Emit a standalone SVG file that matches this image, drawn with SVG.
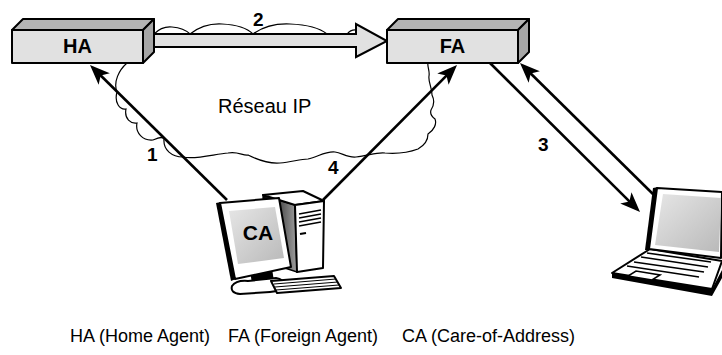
<svg xmlns="http://www.w3.org/2000/svg" width="722" height="355" viewBox="0 0 722 355">
  <defs>
    <style>
      .front { fill: #e1e1e1; stroke: #000; stroke-width: 2; stroke-linejoin: round; }
      .top { fill: #b4b4b4; stroke: #000; stroke-width: 2; stroke-linejoin: round; }
      .side { fill: #a6a6a6; stroke: #000; stroke-width: 2; stroke-linejoin: round; }
      .boxlabel { font-family: "Liberation Sans", Arial, sans-serif; font-weight: bold; font-size: 20px; text-anchor: middle; fill: #000; }
      .step { font-family: "Liberation Sans", Arial, sans-serif; font-weight: bold; font-size: 19px; fill: #000; }
      .plain { font-family: "Liberation Sans", Arial, sans-serif; font-size: 18px; fill: #000; }
      .cloud { fill: none; stroke: #000; stroke-width: 1.2; }
      .link { fill: none; stroke: #000; stroke-width: 2.6; }
      .ln { stroke: #000; fill: none; }
      .white { fill: #fff; stroke: #000; stroke-width: 2; stroke-linejoin: round; }
    </style>
    <marker id="head" markerUnits="userSpaceOnUse" markerWidth="22" markerHeight="18" refX="16" refY="8" orient="auto">
      <path d="M0,0 L20,8 L0,16 L5,8 z" fill="#000"/>
    </marker>
    <linearGradient id="screen" x1="0" y1="0" x2="1" y2="1">
      <stop offset="0" stop-color="#e6e6e6"/>
      <stop offset="1" stop-color="#b9b9b9"/>
    </linearGradient>
    <linearGradient id="towerSide" x1="0" y1="0" x2="1" y2="0">
      <stop offset="0" stop-color="#000"/>
      <stop offset="1" stop-color="#a0a0a0"/>
    </linearGradient>
  </defs>

  <!-- IP network cloud -->
  <g id="reseau-ip">
    <path class="cloud" d="M154,34 Q162,26 172,27 Q184,28 190,34 Q204,23 222,24 Q244,25 253,34 Q268,23 290,24 Q316,25 327,34 M347,34 Q351,29 357,30"/>
    <path class="cloud" d="M127,63 C119,70 113,82 117,92 C114,103 120,110 126,109 C124,119 131,124 137,123 C135,133 143,141 153,140 C158,138 162,136 164,139 C163,150 172,157 183,157 C195,160 215,154 228,153 C238,151 243,156 248,155 C258,160 268,164 280,163 C292,162 300,159 308,159 C318,157 325,151 335,152 C342,153 348,158 356,157 C368,156 376,152 385,153 C398,154 410,152 418,149 C425,145 428,140 428,134 C434,130 437,124 435,119 C431,116 430,113 431,110 C435,104 434,99 432,95 C432,87 428,82 429,76 C430,71 427,66 428,63"/>
    <text class="plain" x="218" y="113" style="font-size:20px">Réseau IP</text>
  </g>

  <!-- connectors -->
  <g id="connectors">
    <polygon id="tunnel-2" points="150,34 356,34 356,24 387,41 356,57 356,47 150,47" fill="#e1e1e1" stroke="#000" stroke-width="2" stroke-linejoin="miter"/>
    <line class="link" x1="227" y1="200" x2="92.85" y2="67.8" marker-end="url(#head)"/>
    <line class="link" x1="323" y1="200" x2="454.2" y2="67.8" marker-end="url(#head)"/>
    <line class="link" x1="490" y1="63" x2="637.2" y2="209.2" marker-end="url(#head)"/>
    <line class="link" x1="657" y1="198" x2="522.85" y2="65.8" marker-end="url(#head)"/>
    <text class="step" x="253" y="26">2</text>
    <text class="step" x="147" y="161">1</text>
    <text class="step" x="328" y="174">4</text>
    <text class="step" x="538" y="151">3</text>
  </g>

  <!-- Home Agent -->
  <g id="ha">
    <polygon class="top" points="12,30 23,19 154,19 143,30"/>
    <polygon class="side" points="143,30 154,19 154,52 143,63"/>
    <rect class="front" x="12" y="30" width="131" height="33"/>
    <text class="boxlabel" x="77.5" y="53">HA</text>
  </g>

  <!-- Foreign Agent -->
  <g id="fa">
    <polygon class="top" points="387,30 398,19 529,19 518,30"/>
    <polygon class="side" points="518,30 529,19 529,52 518,63"/>
    <rect class="front" x="387" y="30" width="131" height="33"/>
    <text class="boxlabel" x="452.5" y="53">FA</text>
  </g>

  <!-- Care-of-Address workstation -->
  <g id="ca">
    <!-- tower -->
    <polygon points="263,195 295,205 297,272 266,262" fill="url(#towerSide)" stroke="#000" stroke-width="1.5"/>
    <polygon class="white" points="263,195 303,191 324,201 295,205"/>
    <polygon class="white" points="295,205 324,201 323,268 297,272"/>
    <g class="ln" stroke-width="1.6">
      <line x1="299" y1="214" x2="321" y2="210"/>
      <line x1="299" y1="218" x2="321" y2="214"/>
      <line x1="299" y1="222" x2="321" y2="218"/>
      <line x1="299" y1="226" x2="321" y2="222"/>
      <line x1="300" y1="234" x2="306" y2="233" stroke-width="2"/>
    </g>
    <!-- monitor -->
    <polygon points="250,270 272,268 274,282 252,284" fill="#000"/>
    <path d="M232,286 Q236,280 248,281 L276,278 Q284,279 283,285 Q282,291 270,292 L240,294 Q230,293 232,286 z" fill="#fff" stroke="#000" stroke-width="2"/>
    <polygon points="216,203 221,202 236,279 231,281" fill="#000"/>
    <polygon class="white" points="220,203 279,198 291,267 235,279"/>
    <polygon points="229,211 275,207 284,258 238,264" fill="url(#screen)"/>
    <text class="boxlabel" x="258" y="240" style="font-size:21px">CA</text>
    <!-- keyboard -->
    <polygon class="white" points="271,281 334,276 341,288 277,293" stroke-width="1.6"/>
    <g class="ln" stroke-width="1">
      <line x1="274" y1="284" x2="336" y2="279"/>
      <line x1="275" y1="287" x2="338" y2="282"/>
      <line x1="276" y1="290" x2="339" y2="285"/>
    </g>
  </g>

  <!-- mobile node (laptop) -->
  <g id="laptop">
    <polygon points="612,273 712,289 722,270 722,278 712,296 612,278" fill="#000"/>
    <polygon class="white" points="650,249 722,261 712,289 612,273"/>
    <polygon points="653,188 658,187 650,250 645,250" fill="#000"/>
    <polygon class="white" points="657,188 722,192 721,258 649,249"/>
    <polygon points="663,194 721,198 719,252 655,245" fill="url(#screen)"/>
    <g class="ln" stroke-width="1.6">
      <line x1="647" y1="253" x2="711" y2="262"/>
      <line x1="641" y1="257" x2="708" y2="267"/>
      <line x1="634" y1="262" x2="704" y2="272"/>
      <line x1="627" y1="266" x2="699" y2="277"/>
    </g>
    <polygon points="628,276 652,280 660,275 636,271" fill="#fff" stroke="#000" stroke-width="1.6"/>
  </g>

  <!-- legend -->
  <g id="legend">
    <text class="plain" x="70" y="342">HA (Home Agent)</text>
    <text class="plain" x="228" y="342">FA (Foreign Agent)</text>
    <text class="plain" x="402" y="342">CA (Care-of-Address)</text>
  </g>
</svg>
